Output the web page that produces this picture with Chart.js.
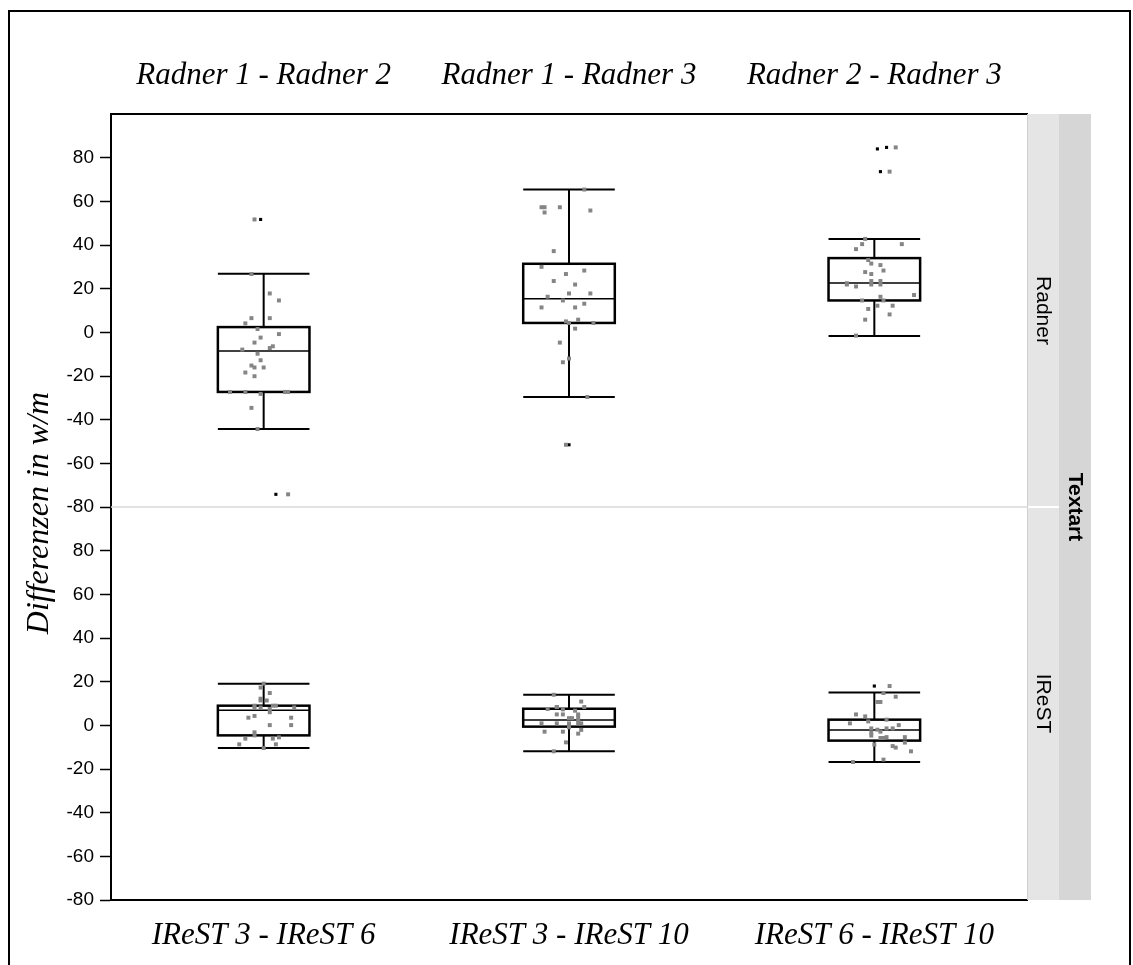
<!DOCTYPE html>
<html>
<head>
<meta charset="utf-8">
<script src="https://cdn.jsdelivr.net/npm/chart.js@4"></script>
<style>
    body { margin: 0; background: #fff; }
    #chart { display: block; }
</style>
</head>
<body>
<canvas id="chart" width="1133" height="965"></canvas>
<script>
// Facet labels
const TOP_LABELS = ['Radner 1 - Radner 2', 'Radner 1 - Radner 3', 'Radner 2 - Radner 3'];
const BOTTOM_LABELS = ['IReST 3 - IReST 6', 'IReST 3 - IReST 10', 'IReST 6 - IReST 10'];
const PANEL_LABELS = ['Radner', 'IReST'];
const STRIP_TITLE = 'Textart';
const Y_TITLE = 'Differenzen in w/m';
const Y_TICKS_MIN = -80;
const Y_TICKS_MAX = 100;

// Box statistics (whisker low, q1, median, q3, whisker high)
const RADNER_LOW = [-44.3, -29.6, -1.7];
const RADNER_Q1 = [-27.3, 4.3, 14.6];
const RADNER_MED = [-8.5, 15.4, 22.6];
const RADNER_Q3 = [2.4, 31.4, 34.0];
const RADNER_HIGH = [26.8, 65.4, 42.8];

const IREST_LOW = [-10.4, -11.9, -16.8];
const IREST_Q1 = [-4.6, -0.6, -7.0];
const IREST_MED = [6.9, 2.4, -2.1];
const IREST_Q3 = [9.0, 7.6, 2.6];
const IREST_HIGH = [19.1, 14.0, 15.0];

// Raw differences per comparison, with the horizontal jitter
const RADNER_VALUES = [
    [51.7, 26.7, 17.8, 14.6, 6.5, 6.5, 4.1, 1.5, -0.8, -2.4, -4.7, -6.4, -7.2, -7.9, -9.8, -12.8, -15.2, -16.1, -16.1, -18.4, -20.1, -27.3, -27.3, -28.2, -27.3, -27.3, -34.6, -44.3, -74.2],
    [65.4, 57.3, 57.3, 57.3, 54.9, 55.8, 37.2, 30.0, 28.3, 26.7, 23.5, 21.9, 17.8, 17.8, 16.3, 14.6, 13.1, 11.4, 11.4, 5.8, 5.0, 4.3, 4.3, 1.7, -4.7, -12.0, -13.7, -29.6, -51.5],
    [84.7, 73.6, 42.8, 40.4, 40.4, 38.1, 33.1, 31.5, 30.8, 28.3, 27.6, 26.7, 23.5, 23.5, 22.5, 21.9, 21.9, 21.9, 21.0, 17.1, 16.3, 14.6, 14.6, 12.2, 12.2, 10.7, 8.2, 5.8, -1.5]
];
const RADNER_JITTER = [
    [-0.03, -0.04, 0.02, 0.05, -0.04, 0.02, -0.06, -0.02, 0.05, -0.01, -0.03, 0.03, 0.02, -0.07, -0.02, -0.01, -0.04, -0.03, 0.00, -0.06, -0.03, -0.11, -0.06, -0.01, 0.07, 0.08, -0.04, -0.02, 0.08],
    [0.05, -0.09, -0.08, -0.03, -0.08, 0.07, -0.05, -0.09, 0.05, -0.01, -0.05, 0.02, 0.00, 0.07, -0.07, -0.02, 0.05, -0.09, 0.02, 0.03, -0.01, 0.00, 0.08, 0.02, -0.03, 0.00, -0.02, 0.06, -0.01],
    [0.07, 0.05, -0.03, -0.04, 0.09, -0.06, -0.02, -0.01, 0.02, 0.03, -0.03, -0.01, -0.01, 0.02, -0.09, -0.09, -0.01, 0.02, -0.06, 0.13, 0.02, 0.03, -0.04, 0.01, 0.06, -0.02, 0.05, -0.03, -0.06]
];
const RADNER_OUT_VALUES = [[51.7, -74.2], [-51.5], [84.0, 84.7, 73.6]];
const RADNER_OUT_JITTER = [[-0.01, 0.04], [0.00], [0.01, 0.04, 0.02]];

const IREST_VALUES = [
    [19.1, 17.3, 14.8, 12.2, 11.4, 11.4, 9.0, 8.2, 8.2, 9.0, 9.0, 7.5, 8.2, 6.0, 4.3, 3.5, 3.5, 0.1, 0.1, -3.2, -4.6, -6.1, -6.1, -5.5, -8.7, -8.7, -10.4],
    [14.0, 10.9, 7.5, 8.4, 8.4, 7.3, 8.4, 6.7, 5.0, 5.0, 5.0, 4.0, 3.3, 3.3, 2.4, 0.9, 0.9, 0.9, 0.9, 0.9, -0.9, -2.1, -2.9, -2.9, -3.8, -7.8, -11.9],
    [18.0, 14.8, 13.1, 10.7, 10.7, 5.0, 4.1, 1.8, 2.6, 0.9, 0.1, -1.4, -2.0, -2.9, -1.4, -1.4, -3.3, -4.7, -5.8, -5.8, -5.4, -5.4, -7.9, -9.5, -10.2, -11.9, -8.8, -15.7, -16.8]
];
const IREST_JITTER = [
    [0.00, -0.01, 0.02, -0.01, -0.01, 0.01, -0.03, -0.01, -0.03, 0.03, 0.04, 0.02, 0.10, 0.02, -0.03, -0.05, 0.09, 0.02, 0.09, -0.03, -0.03, -0.06, 0.03, 0.05, -0.08, 0.04, 0.00],
    [-0.05, 0.04, -0.07, -0.04, -0.04, -0.02, 0.05, 0.02, -0.04, -0.02, 0.03, 0.03, 0.01, 0.00, 0.03, -0.09, -0.04, 0.00, 0.03, 0.04, 0.00, 0.04, -0.08, -0.02, 0.03, -0.01, -0.05],
    [0.05, 0.03, 0.07, 0.01, 0.02, -0.06, -0.03, -0.02, 0.04, -0.08, 0.08, -0.01, 0.01, 0.02, 0.04, 0.06, -0.01, -0.01, 0.02, 0.03, 0.04, 0.10, 0.10, 0.06, 0.07, 0.12, 0.00, 0.03, -0.07]
];
const IREST_OUT_VALUES = [[], [], [18.0]];
const IREST_OUT_JITTER = [[], [], [0.00]];

// Turn the value/jitter lists into scatter points
function toPoints(values, jitter) {
    const pts = [];
    values.forEach((group, i) => {
        group.forEach((v, j) => pts.push({ x: i + 1 + jitter[i][j], y: v }));
    });
    return pts;
}

const SERIF = '"Liberation Serif", "Times New Roman", serif';
const SANS = '"Liberation Sans", Arial, sans-serif';
Chart.defaults.font.family = SANS;
Chart.defaults.color = '#000';

const panels = [
    { axis: 'yTop', low: RADNER_LOW, q1: RADNER_Q1, med: RADNER_MED, q3: RADNER_Q3, high: RADNER_HIGH },
    { axis: 'yBot', low: IREST_LOW, q1: IREST_Q1, med: IREST_MED, q3: IREST_Q3, high: IREST_HIGH }
];

// Boxes and whiskers, drawn under the points
const boxPlugin = {
    id: 'boxes',
    beforeDatasetsDraw(chart) {
        const ctx = chart.ctx;
        const xs = chart.scales.x;
        const area = chart.chartArea;
        ctx.save();
        // separator between the two panels
        const sep = chart.scales.yTop.bottom;
        ctx.strokeStyle = '#d9d9d9';
        ctx.lineWidth = 1.5;
        ctx.beginPath();
        ctx.moveTo(area.left, sep);
        ctx.lineTo(area.right, sep);
        ctx.stroke();

        ctx.strokeStyle = '#000';
        panels.forEach(p => {
            const ys = chart.scales[p.axis];
            p.q1.forEach((q1, i) => {
                const xc = xs.getPixelForValue(i + 1);
                const hw = xs.getPixelForValue(i + 1.15) - xc;
                const yLow = ys.getPixelForValue(p.low[i]);
                const yQ1 = ys.getPixelForValue(q1);
                const yMed = ys.getPixelForValue(p.med[i]);
                const yQ3 = ys.getPixelForValue(p.q3[i]);
                const yHigh = ys.getPixelForValue(p.high[i]);

                ctx.lineWidth = 2;
                ctx.beginPath();
                ctx.moveTo(xc, yHigh); ctx.lineTo(xc, yQ3);
                ctx.moveTo(xc, yQ1); ctx.lineTo(xc, yLow);
                ctx.moveTo(xc - hw, yHigh); ctx.lineTo(xc + hw, yHigh);
                ctx.moveTo(xc - hw, yLow); ctx.lineTo(xc + hw, yLow);
                ctx.stroke();

                ctx.lineWidth = 2.5;
                ctx.strokeRect(xc - hw, yQ3, hw * 2, yQ1 - yQ3);

                ctx.lineWidth = 1.5;
                ctx.beginPath();
                ctx.moveTo(xc - hw, yMed); ctx.lineTo(xc + hw, yMed);
                ctx.stroke();
            });
        });
        ctx.restore();
    }
};

// Facet strips on the right, y title and outer frame
const decorPlugin = {
    id: 'decor',
    afterDraw(chart) {
        const ctx = chart.ctx;
        const area = chart.chartArea;
        const sep = chart.scales.yTop.bottom;
        ctx.save();

        ctx.fillStyle = '#e5e5e5';
        ctx.fillRect(area.right, area.top, 32, area.bottom - area.top);
        ctx.fillStyle = '#d6d6d6';
        ctx.fillRect(area.right + 32, area.top, 32, area.bottom - area.top);
        ctx.strokeStyle = '#fff';
        ctx.lineWidth = 2;
        ctx.beginPath();
        ctx.moveTo(area.right, sep);
        ctx.lineTo(area.right + 32, sep);
        ctx.stroke();
        ctx.strokeStyle = '#d0d0d0';
        ctx.lineWidth = 1;
        ctx.beginPath();
        ctx.moveTo(area.right + 0.5, area.top);
        ctx.lineTo(area.right + 0.5, area.bottom);
        ctx.stroke();

        ctx.fillStyle = '#000';
        ctx.textAlign = 'center';
        ctx.textBaseline = 'middle';
        const mids = [(area.top + sep) / 2, (sep + area.bottom) / 2];
        ctx.font = '21px ' + SANS;
        PANEL_LABELS.forEach((label, i) => {
            ctx.save();
            ctx.translate(area.right + 16, mids[i]);
            ctx.rotate(Math.PI / 2);
            ctx.fillText(label, 0, 0);
            ctx.restore();
        });
        ctx.save();
        ctx.font = 'bold 21px ' + SANS;
        ctx.translate(area.right + 48, sep);
        ctx.rotate(Math.PI / 2);
        ctx.fillText(STRIP_TITLE, 0, 0);
        ctx.restore();

        ctx.save();
        ctx.font = 'italic 32px ' + SERIF;
        ctx.translate(40, sep + 6);
        ctx.rotate(-Math.PI / 2);
        ctx.fillText(Y_TITLE, 0, 0);
        ctx.restore();

        ctx.strokeStyle = '#000';
        ctx.lineWidth = 2;
        ctx.strokeRect(9, 11, 1121, 1000);
        ctx.restore();
    }
};

function yAxis() {
    return {
        type: 'linear',
        position: 'left',
        stack: 'panels',
        stackWeight: 1,
        min: Y_TICKS_MIN,
        max: Y_TICKS_MAX,
        afterBuildTicks: s => { s.ticks = s.ticks.filter(t => t.value < Y_TICKS_MAX); },
        afterFit: s => { s.width = 99; },
        ticks: { stepSize: 20, autoSkip: false, padding: 6, font: { size: 19 }, color: '#000' },
        grid: { drawOnChartArea: false, drawTicks: true, tickLength: 11, tickColor: '#000', tickWidth: 1.5 },
        border: { color: '#000', width: 2 }
    };
}

function xAxis(position, labels, padding, height) {
    return {
        type: 'linear',
        position: position,
        min: 0.5,
        max: 3.5,
        afterBuildTicks: s => { s.ticks = labels.map((l, i) => ({ value: i + 1 })); },
        afterFit: s => { s.height = height; },
        ticks: {
            autoSkip: false,
            maxRotation: 0,
            padding: padding,
            color: '#000',
            font: { family: SERIF, style: 'italic', size: 31 },
            callback: v => labels[Math.round(v) - 1]
        },
        grid: { display: false, drawTicks: false },
        border: { color: '#000', width: 2 }
    };
}

const pointStyle = { type: 'scatter', pointStyle: 'rect', borderWidth: 0, xAxisID: 'x' };

new Chart(document.getElementById('chart'), {
    type: 'scatter',
    data: {
        datasets: [
            { ...pointStyle, label: 'Radner', yAxisID: 'yTop', data: toPoints(RADNER_VALUES, RADNER_JITTER), backgroundColor: '#858585', pointRadius: 2.8 },
            { ...pointStyle, label: 'IReST', yAxisID: 'yBot', data: toPoints(IREST_VALUES, IREST_JITTER), backgroundColor: '#858585', pointRadius: 2.8 },
            { ...pointStyle, label: 'Radner outliers', yAxisID: 'yTop', data: toPoints(RADNER_OUT_VALUES, RADNER_OUT_JITTER), backgroundColor: '#000', pointRadius: 2.2 },
            { ...pointStyle, label: 'IReST outliers', yAxisID: 'yBot', data: toPoints(IREST_OUT_VALUES, IREST_OUT_JITTER), backgroundColor: '#000', pointRadius: 2.2 }
        ]
    },
    options: {
        responsive: false,
        devicePixelRatio: 1,
        animation: false,
        events: [],
        layout: { padding: { top: 20, left: 12, right: 106, bottom: 0 } },
        plugins: { legend: { display: false }, tooltip: { enabled: false } },
        scales: {
            x: xAxis('bottom', BOTTOM_LABELS, 17, 65),
            x2: xAxis('top', TOP_LABELS, 20, 94),
            yBot: yAxis(),
            yTop: yAxis()
        }
    },
    plugins: [boxPlugin, decorPlugin]
});
</script>
</body>
</html>
